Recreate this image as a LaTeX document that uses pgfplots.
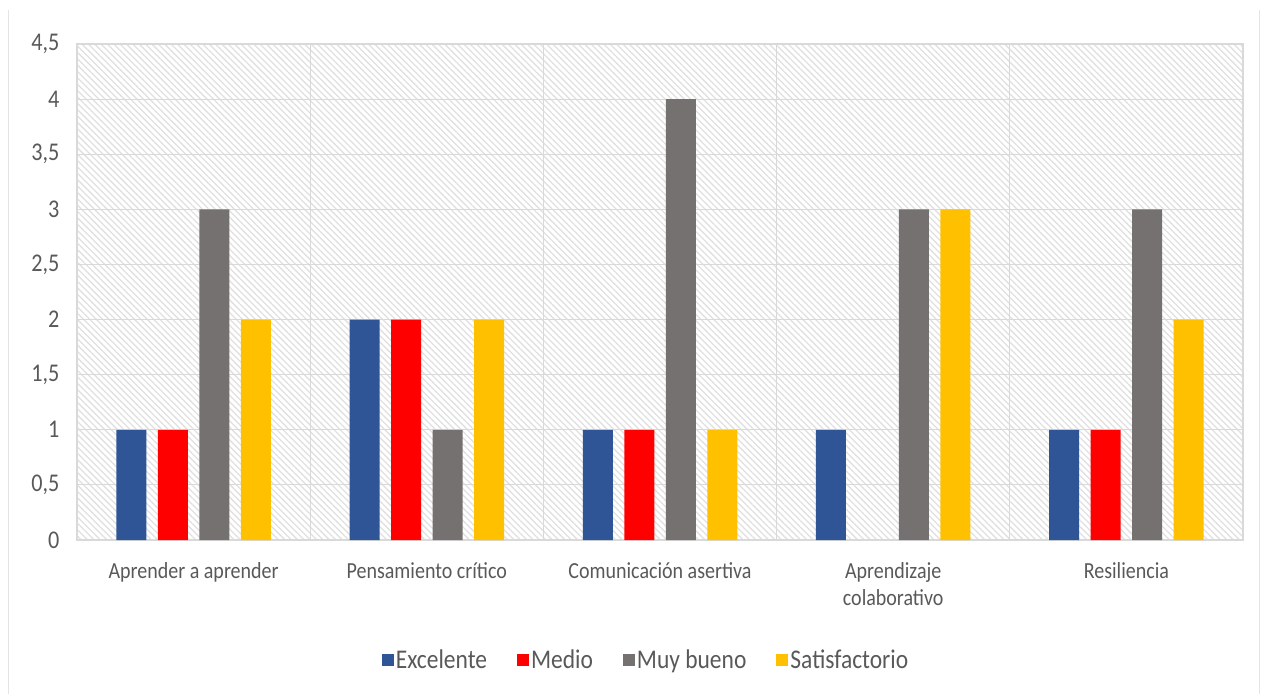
\documentclass[border=0pt]{standalone}
\usepackage{pgfplots}
\pgfplotsset{compat=1.18}
\usepackage{fontspec}
\setmainfont{Carlito}[FakeStretch=0.87]
\usetikzlibrary{patterns.meta}
\definecolor{cblue}{HTML}{2F5597}
\definecolor{cred}{HTML}{FF0000}
\definecolor{cgray}{HTML}{767171}
\definecolor{cyellow}{HTML}{FFC000}
\definecolor{tickc}{HTML}{595959}
\definecolor{gridc}{HTML}{D9D9D9}
\begin{document}
\begin{tikzpicture}
\useasboundingbox (-77pt,-154pt) rectangle (1190pt,540pt);
\draw[gridc!70, line width=1pt] (-68pt,-154pt) -- (-68pt,530pt);
\draw[gridc!70, line width=1pt] (1182pt,-154pt) -- (1182pt,530pt);
\begin{axis}[
  at={(0,0)}, anchor=south west,
  scale only axis,
  width=1166pt, height=496pt,
  ybar=11.5pt, bar width=30pt,
  xmin=-0.5, xmax=4.5,
  ymin=0, ymax=4.5,
  ytick={0,0.5,...,4.5},
  xtick={0,1,2,3,4},
  xticklabels={Aprender a aprender,Pensamiento crítico,Comunicación asertiva,{Aprendizaje\\colaborativo},Resiliencia},
  minor xtick={0.5,1.5,2.5,3.5},
  xmajorgrids=false, xminorgrids=true, ymajorgrids=true,
  grid style={gridc, line width=1.2pt},
  minor grid style={gridc, line width=1.2pt},
  axis line style={gridc, line width=1.2pt},
  major tick length=0pt, minor tick length=0pt,
  tick style={draw=none},
  axis background/.style={pattern={Lines[angle=-45,distance=4.5pt,line width=1.3pt]}, pattern color=black!12},
  /pgf/number format/use comma,
  /pgf/number format/assume math mode=true,
  xticklabel style={font=\fontsize{23}{27}\selectfont, text=tickc, align=center, yshift=-19pt},
  yticklabel style={font=\fontsize{25.5}{28}\selectfont, text=tickc, xshift=-14pt},
  legend style={at={(0.488,-0.242)}, anchor=center, draw=none, fill=none,
    legend columns=4, font=\fontsize{27}{30}\selectfont, text=tickc,
    /tikz/every even column/.append style={column sep=28pt}},
  legend image code/.code={\fill[#1] (0pt,-6pt) rectangle (12pt,6pt);},
]
\addplot[fill=cblue, draw=none] coordinates {(0,1) (1,2) (2,1) (3,1) (4,1)};
\addplot[fill=cred, draw=none] coordinates {(0,1) (1,2) (2,1) (4,1)};
\addplot[fill=cgray, draw=none] coordinates {(0,3) (1,1) (2,4) (3,3) (4,3)};
\addplot[fill=cyellow, draw=none] coordinates {(0,2) (1,2) (2,1) (3,3) (4,2)};
\legend{Excelente,Medio,Muy bueno,Satisfactorio}
\end{axis}
\end{tikzpicture}
\end{document}
